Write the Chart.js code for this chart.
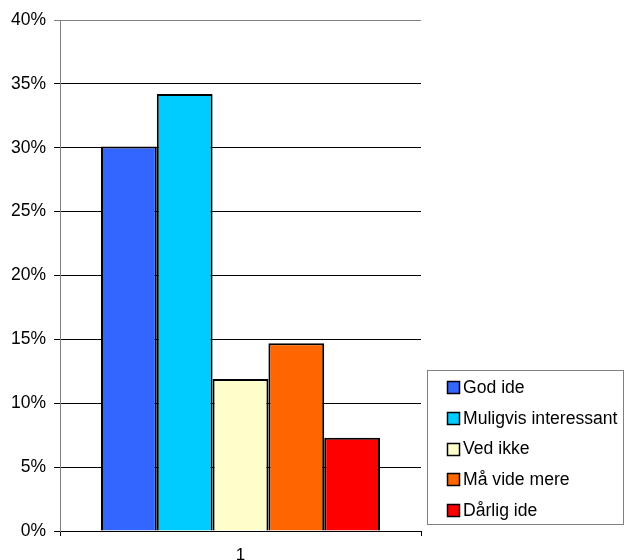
<!DOCTYPE html>
<html>
<head>
<meta charset="utf-8">
<script src="https://cdn.jsdelivr.net/npm/chart.js@4"></script>
<style>
  html, body { margin: 0; padding: 0; background: #fff; }
  #wrap { width: 625px; height: 560px; position: relative; }
</style>
</head>
<body>
<div id="wrap"><canvas id="c" width="625" height="560"></canvas></div>
<script>
const categories = ['1'];
const seriesNames = ['God ide', 'Muligvis interessant', 'Ved ikke', 'Må vide mere', 'Dårlig ide'];
const seriesValues = [[0.301], [0.342], [0.119], [0.147], [0.073]];
const seriesColors = ['#3366FF', '#00CCFF', '#FFFFCC', '#FF6600', '#FF0000'];
const yTickMin = 0, yTickMax = 0.4, yTickStep = 0.05;

const FONT = '"Liberation Sans", Arial, sans-serif';

const legendBox = {
  id: 'legendBox',
  afterDraw(chart) {
    const ctx = chart.ctx;
    const x0 = 427.5, y0 = 370.5, w = 196, h = 154;
    ctx.save();
    ctx.strokeStyle = '#808080';
    ctx.lineWidth = 1;
    ctx.strokeRect(x0, y0, w, h);
    ctx.font = '17.6px ' + FONT;
    ctx.textBaseline = 'middle';
    ctx.textAlign = 'left';
    chart.data.datasets.forEach((ds, i) => {
      const cy = 387 + i * 30.8;
      ctx.fillStyle = ds.backgroundColor;
      ctx.fillRect(448, Math.round(cy) - 5, 11, 11);
      ctx.strokeStyle = '#000';
      ctx.lineWidth = 1.5;
      ctx.strokeRect(447.5, Math.round(cy) - 5.5, 12, 12);
      ctx.fillStyle = '#000';
      ctx.fillText(ds.label, 463, cy + 1);
    });
    ctx.restore();
  }
};

new Chart(document.getElementById('c'), {
  type: 'bar',
  data: {
    labels: categories,
    datasets: seriesNames.map((n, i) => ({
      label: n,
      data: seriesValues[i],
      backgroundColor: seriesColors[i],
      borderColor: '#000',
      borderWidth: 2
    }))
  },
  options: {
    responsive: false,
    animation: false,
    devicePixelRatio: 1,
    categoryPercentage: 0.773,
    barPercentage: 1,
    layout: { padding: { top: 20, right: 204, left: 0, bottom: 0 } },
    plugins: { legend: { display: false }, tooltip: { enabled: false } },
    scales: {
      x: {
        offset: true,
        grid: { offset: true, drawOnChartArea: false, drawTicks: true, tickLength: 5, color: '#000' },
        border: { color: '#000', width: 1 },
        ticks: { color: '#000', font: { family: FONT, size: 17 }, padding: 9 },
        afterFit(s) { s.height = 29; }
      },
      y: {
        min: yTickMin, max: yTickMax,
        ticks: {
          stepSize: yTickStep, color: '#000', font: { family: FONT, size: 17.5 }, padding: 8,
          callback: v => Math.round(v * 100) + '%'
        },
        grid: {
          color: ctx => (ctx.tick && Math.abs(ctx.tick.value - yTickMax) < 1e-9) ? '#808080' : '#000',
          tickLength: 6, lineWidth: 1
        },
        border: { color: '#808080', width: 1 },
        afterFit(s) { s.width = 60; }
      }
    }
  },
  plugins: [legendBox]
});
</script>
</body>
</html>
